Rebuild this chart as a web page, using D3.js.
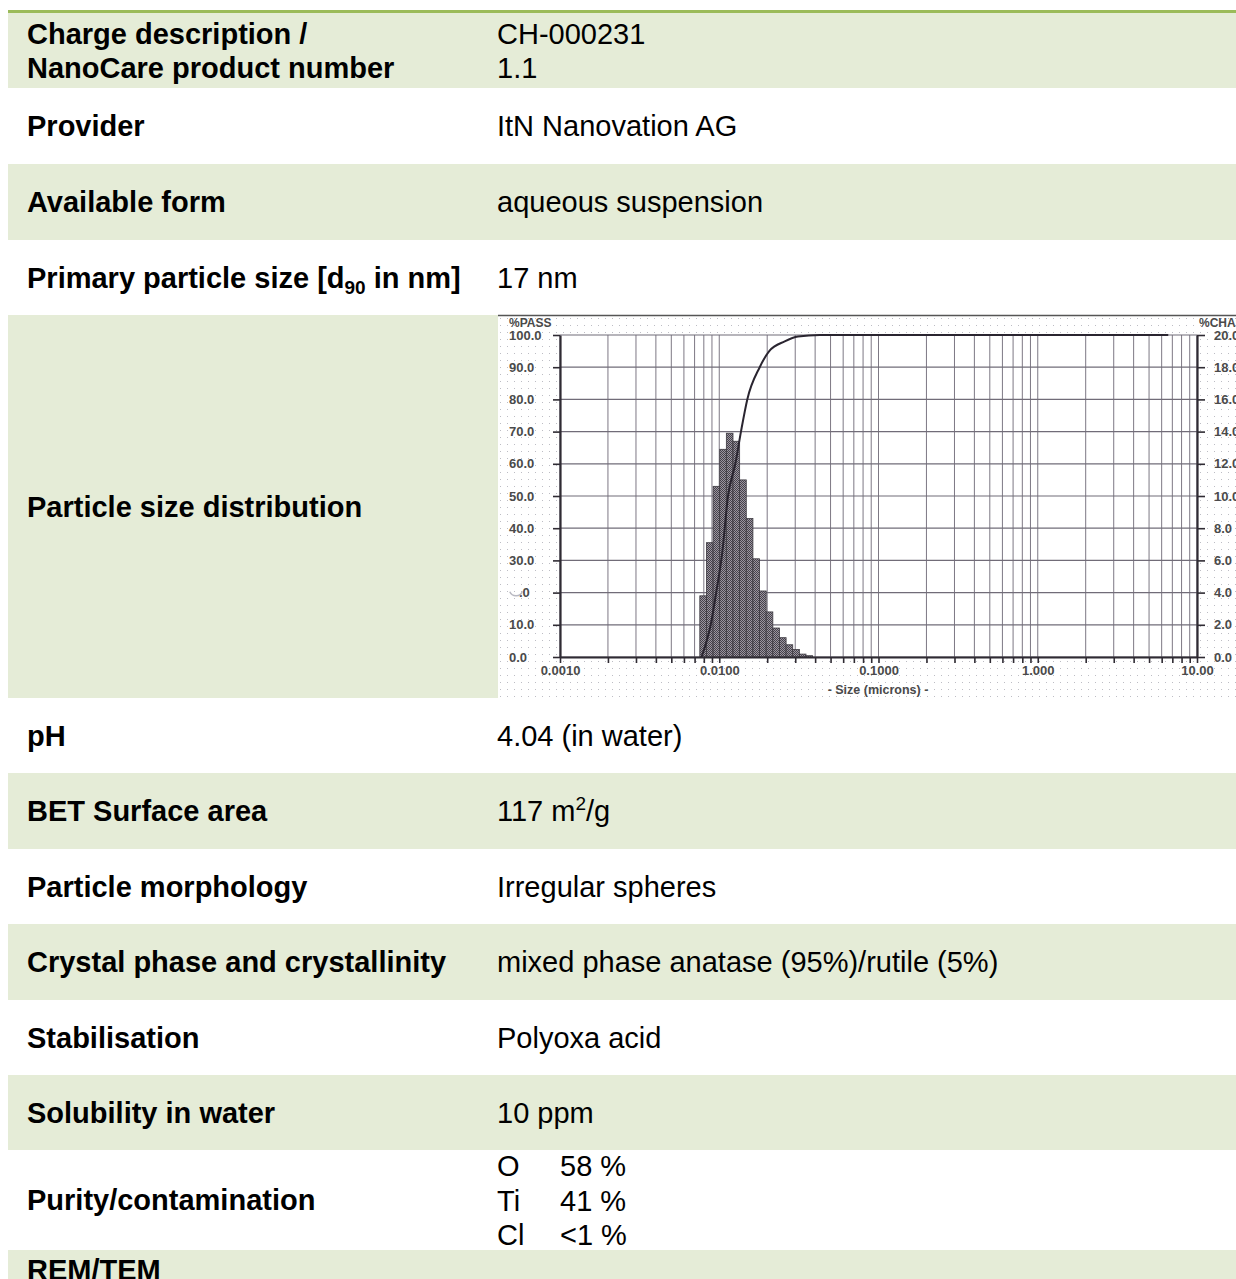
<!DOCTYPE html>
<html>
<head>
<meta charset="utf-8">
<title>NanoCare data sheet - particle size distribution</title>
<script src="https://d3js.org/d3.v7.min.js"></script>
<style>
  body { margin: 0; background: #fff; }
  svg { display: block; font-family: "Liberation Sans", Arial, sans-serif; }
  .lbl { font-size: 29px; font-weight: bold; fill: #000; }
  .val { font-size: 29px; fill: #000; }
  .ax text { font-family: "Liberation Sans", Arial, sans-serif; font-size: 13px; font-weight: bold; fill: #4a4a4a; }
</style>
</head>
<body>
<div id="sheet"></div>
<script>
// ---- table data ----
var rowLabels = ["Charge description /|NanoCare product number", "Provider", "Available form",
  "Primary particle size [d90 in nm]", "Particle size distribution", "pH", "BET Surface area",
  "Particle morphology", "Crystal phase and crystallinity", "Stabilisation", "Solubility in water",
  "Purity/contamination", "REM/TEM"];
var rowValues = ["CH-000231|1.1", "ItN Nanovation AG", "aqueous suspension", "17 nm", "",
  "4.04 (in water)", "117 m2/g", "Irregular spheres", "mixed phase anatase (95%)/rutile (5%)",
  "Polyoxa acid", "10 ppm", "", ""];
var purityElements = ["O", "Ti", "Cl"];
var purityAmounts = ["58 %", "41 %", "<1 %"];

// ---- chart data ----
// channel lower/upper edges in microns and % per channel (right axis)
var chanEdges = [0.00755, 0.00831, 0.00915, 0.01007, 0.01108, 0.01220, 0.01343, 0.01478, 0.01627,
  0.01791, 0.01971, 0.02170, 0.02388, 0.02629, 0.02893, 0.03185, 0.03505, 0.03858];
var chanPct = [3.8, 7.1, 10.6, 12.9, 13.9, 13.4, 11.0, 8.6, 6.1, 4.1, 2.8, 1.8, 1.2, 0.76, 0.46, 0.18, 0.08];
// cumulative passing curve (left axis)
var passSize = [0.00774, 0.00896, 0.00955, 0.01042, 0.01135, 0.01262, 0.01369, 0.01500, 0.01795,
  0.0206, 0.02578, 0.0312, 0.0428, 6.6];
var passPct = [0, 11.5, 19.8, 32, 50, 60, 70, 80, 90, 95, 98, 99.5, 100, 100];
var passTicks = [0, 10, 20, 30, 40, 50, 60, 70, 80, 90, 100];
var chanTicks = [0, 2, 4, 6, 8, 10, 12, 14, 16, 18, 20];
var sizeMajor = [0.001, 0.01, 0.1, 1, 10];
var sizeLabels = ["0.0010", "0.0100", "0.1000", "1.000", "10.00"];

var W = 1236, H = 1279;
var rowTops = [13, 88, 164, 240, 315, 698, 773, 849, 924, 1000, 1075, 1150, 1250, 1300];
var green = "#e5ecd7";

var svg = d3.select("#sheet").append("svg")
  .attr("width", W)
  .attr("height", H);

// row backgrounds
svg.selectAll("rect.row")
  .data(rowLabels)
  .enter()
  .append("rect")
  .attr("class", "row")
  .attr("x", 8)
  .attr("y", function (d, i) { return rowTops[i]; })
  .attr("width", W - 8)
  .attr("height", function (d, i) { return rowTops[i + 1] - rowTops[i]; })
  .attr("fill", function (d, i) { return i % 2 == 0 ? green : "#fff"; });

// top rule
svg.append("rect").attr("x", 8).attr("y", 10).attr("width", W - 8).attr("height", 3).attr("fill", "#9bbb59");

// labels
var labelX = 27, valueX = 497;
rowLabels.forEach(function (lab, i) {
  var mid = (rowTops[i] + rowTops[i + 1]) / 2;
  if (i == 12) mid = 1270;
  var t = svg.append("text").attr("class", "lbl").attr("x", labelX);
  if (lab.indexOf("|") >= 0) {
    var parts = lab.split("|");
    t.attr("y", mid - 17 + 10).text(parts[0]);
    svg.append("text").attr("class", "lbl").attr("x", labelX).attr("y", mid + 17 + 10).text(parts[1]);
  } else if (lab.indexOf("d90") >= 0) {
    t.attr("y", mid + 10);
    t.append("tspan").text("Primary particle size [d");
    t.append("tspan").attr("font-size", "19px").attr("dy", 6).text("90");
    t.append("tspan").attr("dy", -6).text(" in nm]");
  } else {
    t.attr("y", mid + 10).text(lab);
  }
});

// values
rowValues.forEach(function (v, i) {
  if (v == "") return;
  var mid = (rowTops[i] + rowTops[i + 1]) / 2;
  if (v.indexOf("|") >= 0) {
    var parts = v.split("|");
    svg.append("text").attr("class", "val").attr("x", valueX).attr("y", mid - 17 + 10).text(parts[0]);
    svg.append("text").attr("class", "val").attr("x", valueX).attr("y", mid + 17 + 10).text(parts[1]);
  } else if (v == "117 m2/g") {
    var t = svg.append("text").attr("class", "val").attr("x", valueX).attr("y", mid + 10);
    t.append("tspan").text("117 m");
    t.append("tspan").attr("font-size", "19px").attr("dy", -11).text("2");
    t.append("tspan").attr("dy", 11).text("/g");
  } else {
    svg.append("text").attr("class", "val").attr("x", valueX).attr("y", mid + 10).text(v);
  }
});

// purity lines
purityElements.forEach(function (el, i) {
  var y = 1166 + i * 34.5 + 10;
  svg.append("text").attr("class", "val").attr("x", valueX).attr("y", y).text(el);
  svg.append("text").attr("class", "val").attr("x", 560).attr("y", y).text(purityAmounts[i]);
});

// ---- chart ----
var defs = svg.append("defs");
var dots = defs.append("pattern").attr("id", "dots").attr("width", 7).attr("height", 7)
  .attr("patternUnits", "userSpaceOnUse");
dots.append("rect").attr("width", 7).attr("height", 7).attr("fill", "#fff");
dots.append("rect").attr("x", 3).attr("y", 3).attr("width", 1).attr("height", 1).attr("fill", "#bdbdc4");
var dither = defs.append("pattern").attr("id", "dither").attr("width", 2).attr("height", 2)
  .attr("patternUnits", "userSpaceOnUse");
dither.append("rect").attr("width", 2).attr("height", 2).attr("fill", "#9c96a0");
dither.append("rect").attr("width", 1).attr("height", 1).attr("fill", "#45414a");
dither.append("rect").attr("x", 1).attr("y", 1).attr("width", 1).attr("height", 1).attr("fill", "#45414a");

var chart = svg.append("g");
chart.append("rect").attr("x", 498).attr("y", 315).attr("width", W - 498).attr("height", 383)
  .attr("fill", "url(#dots)");
chart.append("line").attr("x1", 498).attr("x2", W).attr("y1", 315.5).attr("y2", 315.5)
  .attr("stroke", "#555").attr("stroke-width", 1.5);

var x = d3.scaleLog().domain([0.001, 10]).range([560, 1197]);
var yPass = d3.scaleLinear().domain([0, 100]).range([657, 335]);
var yChan = d3.scaleLinear().domain([0, 20]).range([657, 335]);

var minorVals = [];
for (var e = -3; e <= 0; e++) {
  for (var m = 1; m <= 9; m++) minorVals.push(m * Math.pow(10, e));
}
minorVals.push(10);

// plot area fill
chart.append("rect").attr("x", x(0.001)).attr("y", yPass(100))
  .attr("width", x(10) - x(0.001)).attr("height", yPass(0) - yPass(100)).attr("fill", "#fff");

// grid
chart.selectAll("line.vg")
  .data(minorVals)
  .enter()
  .append("line")
  .attr("x1", function (d) { return x(d); })
  .attr("x2", function (d) { return x(d); })
  .attr("y1", yPass(100))
  .attr("y2", yPass(0))
  .attr("stroke", "#7d7884")
  .attr("stroke-width", 1);
chart.selectAll("line.hg")
  .data(passTicks)
  .enter()
  .append("line")
  .attr("x1", x(0.001))
  .attr("x2", x(10))
  .attr("y1", function (d) { return yPass(d); })
  .attr("y2", function (d) { return yPass(d); })
  .attr("stroke", "#716c78")
  .attr("stroke-width", 1.2);

// bars
chart.selectAll("rect.bar")
  .data(chanPct)
  .enter()
  .append("rect")
  .attr("class", "bar")
  .attr("x", function (d, i) { return x(chanEdges[i]); })
  .attr("width", function (d, i) { return x(chanEdges[i + 1]) - x(chanEdges[i]); })
  .attr("y", function (d) { return yChan(d); })
  .attr("height", function (d) { return yChan(0) - yChan(d); })
  .attr("fill", "url(#dither)")
  .attr("stroke", "#3c3940")
  .attr("stroke-width", 0.8);

// cumulative curve
var line = d3.line()
  .x(function (d, i) { return x(passSize[i]); })
  .y(function (d) { return yPass(d); })
  .curve(d3.curveMonotoneX);
chart.append("path")
  .datum(passPct)
  .attr("d", line)
  .attr("fill", "none")
  .attr("stroke", "#2a2530")
  .attr("stroke-width", 2);

// axes
var leftAxis = chart.append("g").attr("class", "ax")
  .attr("transform", "translate(" + x(0.001) + ",0)")
  .call(d3.axisLeft(yPass).tickValues(passTicks).tickSize(7).tickSizeOuter(0).tickFormat(d3.format(".1f")));
leftAxis.selectAll("text").attr("x", -51).attr("text-anchor", "start");
// the 20.0 label is smudged in the scan
leftAxis.selectAll(".tick").filter(function (d) { return d == 20; }).select("text")
  .text(".0").attr("x", -41);
leftAxis.selectAll(".tick").filter(function (d) { return d == 20; }).append("path")
  .attr("d", d3.arc()({ innerRadius: 6, outerRadius: 7.5, startAngle: 1.9, endAngle: 4.3 }))
  .attr("transform", "translate(-44,-4)")
  .attr("fill", "#b9b9c2");

var rightAxis = chart.append("g").attr("class", "ax")
  .attr("transform", "translate(" + x(10) + ",0)")
  .call(d3.axisRight(yChan).tickValues(chanTicks).tickSize(8).tickSizeOuter(0).tickFormat(d3.format(".1f")));
rightAxis.selectAll("text").attr("x", 17);

var bottomAxis = chart.append("g").attr("class", "ax")
  .attr("transform", "translate(0," + yPass(0) + ")")
  .call(d3.axisBottom(x).tickValues(minorVals).tickSize(6).tickSizeOuter(0)
    .tickFormat(function (d) {
      var k = sizeMajor.findIndex(function (v) { return Math.abs(v - d) / v < 1e-6; });
      return k >= 0 ? sizeLabels[k] : "";
    }));
bottomAxis.selectAll("text").attr("y", 9);

[leftAxis, rightAxis, bottomAxis].forEach(function (a) {
  a.select(".domain").attr("stroke", "#2f2b33").attr("stroke-width", 2.2);
  a.selectAll(".tick line").attr("stroke", "#2f2b33").attr("stroke-width", 1.6);
});

chart.append("text").attr("x", 509).attr("y", 327)
  .attr("font-size", "12px").attr("font-weight", "bold").attr("fill", "#4a4a4a").text("%PASS");
chart.append("text").attr("x", 1199).attr("y", 327)
  .attr("font-size", "12px").attr("font-weight", "bold").attr("fill", "#4a4a4a").text("%CHAN");
chart.append("text").attr("x", 878).attr("y", 694).attr("text-anchor", "middle")
  .attr("font-size", "12.5px").attr("font-weight", "bold").attr("fill", "#4a4a4a").text("- Size (microns) -");
</script>
</body>
</html>
